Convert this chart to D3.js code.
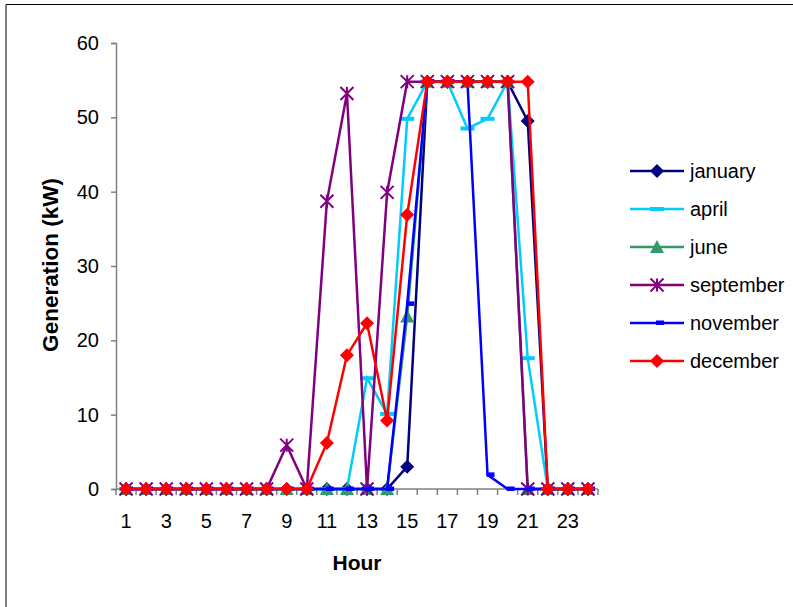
<!DOCTYPE html>
<html><head><meta charset="utf-8">
<script src="https://cdn.jsdelivr.net/npm/d3@7"></script>
<style>body{margin:0;background:#fff}svg{display:block}text{font-family:"Liberation Sans",Arial,sans-serif}</style>
</head><body><svg id="c" width="793" height="607"></svg>
<script>
const hours = d3.range(1, 25);
const xTickLabels = [1,3,5,7,9,11,13,15,17,19,21,23];
const yTicks = [0,10,20,30,40,50,60];
const january   = [0,0,0,0,0,0,0,0,0,0,0,0,0,0,3,54.8,54.8,54.8,54.8,54.8,49.5,0,0,0];
const april     = [0,0,0,0,0,0,0,0,0,0,0,0,14.9,10.1,49.8,54.8,54.8,48.5,49.8,54.8,17.6,0,0,0];
const june      = [0,0,0,0,0,0,0,0,0,0,0,0,0,0,23.2,54.8,54.8,54.8,54.8,54.8,0,0,0,0];
const september = [0,0,0,0,0,0,0,0,5.9,0,38.7,53.2,0,39.9,54.8,54.8,54.8,54.8,54.8,54.8,0,0,0,0];
const november  = [0,0,0,0,0,0,0,0,0,0,0,0,0,0,24.9,54.8,54.8,54.8,1.9,0,0,0,0,0];
const december  = [0,0,0,0,0,0,0,0,0,0,6.2,18,22.3,9.2,36.9,54.8,54.8,54.8,54.8,54.8,54.8,0,0,0];
const seriesNames = ["january","april","june","september","november","december"];
const seriesData = [january, april, june, september, november, december];
const colors = ["#000080","#00CCFF","#339966","#800080","#0000FF","#FF0000"];
const markers = ["diamond","bigdash","triangle","asterisk","smalldash","diamond"];

const svg = d3.select("#c");
// frame
svg.append("path").attr("d","M6,620V4.5H800").attr("fill","none").attr("stroke","#000").attr("stroke-width",1);

const x = d3.scaleBand().domain(hours).range([116, 598]);
const y = d3.scaleLinear().domain([0, 60]).range([489, 43]);

// y axis
const ya = svg.append("g").attr("transform","translate(116,0)")
  .call(d3.axisLeft(y).tickValues(yTicks).tickSize(5).tickPadding(12));
ya.select(".domain").attr("stroke","#808080").attr("stroke-width",1.5);
ya.selectAll(".tick line").attr("stroke","#808080").attr("stroke-width",1.5);
ya.selectAll("text").attr("font-size",20).attr("fill","#000").attr("font-family","Liberation Sans, Arial, sans-serif");

// x axis
const xa = svg.append("g").attr("transform","translate(0,489)");
xa.append("line").attr("x1",116).attr("x2",598).attr("stroke","#808080").attr("stroke-width",1.5);
const bounds = hours.map(h => x(h)).concat([x(24)+x.bandwidth()]);
xa.selectAll("line.t").data(bounds).join("line").attr("class","t")
  .attr("x1",d=>d).attr("x2",d=>d).attr("y1",0).attr("y2",6).attr("stroke","#808080").attr("stroke-width",1.5);
xa.selectAll("text").data(xTickLabels).join("text")
  .attr("x",d=>x(d)+x.bandwidth()/2).attr("y",39).attr("text-anchor","middle")
  .attr("font-size",20).text(d=>d);

// axis titles
svg.append("text").attr("x",357).attr("y",570).attr("text-anchor","middle")
  .attr("font-size",21).attr("font-weight","bold").text("Hour");
svg.append("text").attr("transform","translate(58,265) rotate(-90)").attr("text-anchor","middle")
  .attr("font-size",22.5).attr("font-weight","bold").text("Generation (kW)");

function drawMarker(g, type, color, cx, cy) {
  if (type === "diamond") {
    g.append("path").attr("d",`M${cx},${cy-7}L${cx+7},${cy}L${cx},${cy+7}L${cx-7},${cy}Z`).attr("fill",color);
  } else if (type === "triangle") {
    g.append("path").attr("d",`M${cx},${cy-7}L${cx+7},${cy+6}L${cx-7},${cy+6}Z`).attr("fill",color);
  } else if (type === "bigdash") {
    g.append("rect").attr("x",cx-7).attr("y",cy-2).attr("width",14).attr("height",4).attr("fill",color);
  } else if (type === "smalldash") {
    g.append("rect").attr("x",cx-1).attr("y",cy-2.5).attr("width",8).attr("height",4.5).attr("fill",color);
  } else if (type === "asterisk") {
    const r = 6.5;
    g.append("path").attr("d",`M${cx-r},${cy-r}L${cx+r},${cy+r}M${cx-r},${cy+r}L${cx+r},${cy-r}M${cx},${cy-r}L${cx},${cy+r}`)
      .attr("stroke",color).attr("stroke-width",2).attr("fill","none");
  }
}

const line = d3.line().x((d,i)=>x(hours[i])+x.bandwidth()/2).y(d=>y(d));
seriesData.forEach((data, si) => {
  const g = svg.append("g");
  g.append("path").attr("d", line(data)).attr("fill","none").attr("stroke",colors[si]).attr("stroke-width",2.5);
  data.forEach((v,i) => drawMarker(g, markers[si], colors[si], x(hours[i])+x.bandwidth()/2, y(v)));
});

// legend
const lg = svg.append("g");
seriesNames.forEach((name, i) => {
  const ly = 171 + i*38;
  lg.append("line").attr("x1",630).attr("x2",684).attr("y1",ly).attr("y2",ly).attr("stroke",colors[i]).attr("stroke-width",2.5);
  drawMarker(lg, markers[i], colors[i], 657, ly);
  lg.append("text").attr("x",690).attr("y",ly+7).attr("font-size",20).text(name);
});
</script></body></html>
